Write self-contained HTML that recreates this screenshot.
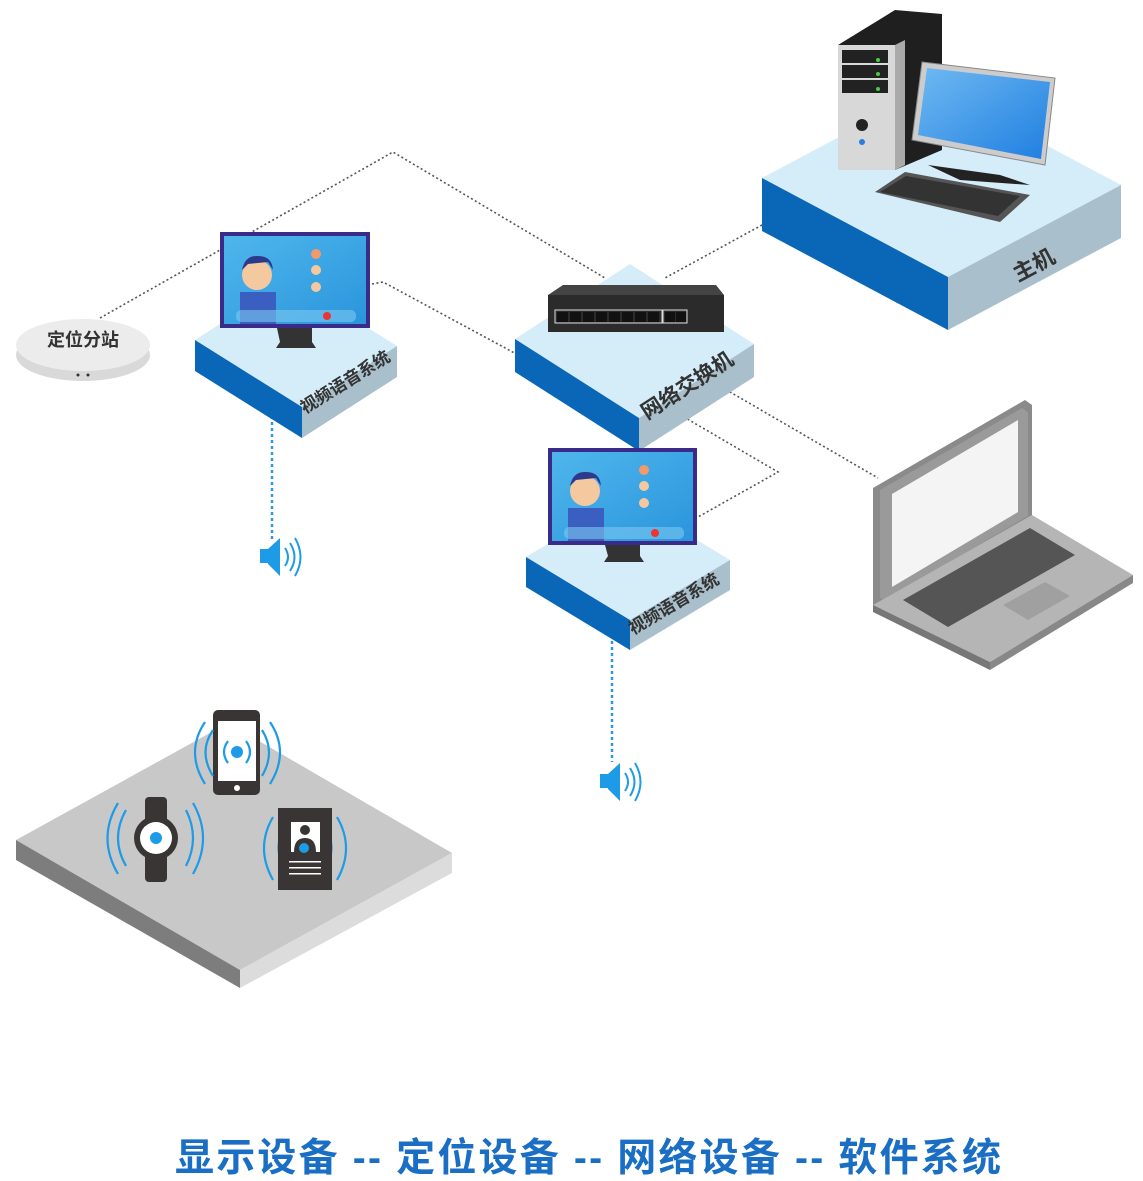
<!DOCTYPE html>
<html><head><meta charset="utf-8"><style>
html,body{margin:0;padding:0;background:#fff;}
svg{display:block;}
text{font-family:"Liberation Sans","Noto Sans CJK SC",sans-serif;font-weight:bold;}
</style></head><body>
<svg width="1143" height="1181" viewBox="0 0 1143 1181" xmlns="http://www.w3.org/2000/svg">
<defs>
<linearGradient id="scr" x1="0" y1="0" x2="1" y2="1"><stop offset="0" stop-color="#4fb6ec"/><stop offset="1" stop-color="#2a95dc"/></linearGradient>
<linearGradient id="pcs" x1="0" y1="0" x2="1" y2="1"><stop offset="0" stop-color="#6fb9f2"/><stop offset="1" stop-color="#1f7fe0"/></linearGradient>
</defs>
<g fill="none" stroke="#555" stroke-width="1.6" stroke-dasharray="2,2.5">
<polyline points="100,318 393,152 605,278"/>
<line x1="762" y1="225" x2="665" y2="278"/>
<polyline points="372,284 383,282 520,356"/>
<line x1="718" y1="385" x2="878" y2="478"/>
<polyline points="672,410 778,472 698,517"/>
</g>
<g fill="none" stroke="#2a9be0" stroke-width="2.5" stroke-dasharray="3,3">
<line x1="272" y1="410" x2="272" y2="540"/>
<line x1="612" y1="635" x2="612" y2="762"/>
</g>

<polygon points="762,178 935,86 1121,185 948,277" fill="#d5ecf9"/>
<polygon points="762,178 948,277 948,330 762,231" fill="#0a66b6"/>
<polygon points="948,277 1121,185 1121,238 948,330" fill="#a9bfcc"/>
<text x="0" y="0" font-size="22" fill="#333" transform="translate(1018,282) rotate(-28)">主机</text>
<polygon points="838,45 895,10 942,14 942,150 895,170" fill="#1f1f1f"/>
<rect x="838" y="45" width="57" height="125" fill="#d8d8d8"/>
<polygon points="895,45 905,40 905,165 895,170" fill="#aaa"/>
<rect x="842" y="50" width="46" height="13" fill="#222"/>
<rect x="842" y="65" width="46" height="13" fill="#222"/>
<rect x="842" y="80" width="46" height="13" fill="#222"/>
<circle cx="878" cy="60" r="2" fill="#4c4"/><circle cx="878" cy="74" r="2" fill="#4c4"/><circle cx="878" cy="89" r="2" fill="#4c4"/>
<circle cx="862" cy="125" r="6" fill="#222"/><circle cx="862" cy="142" r="3" fill="#2a7de0"/>
<polygon points="922,62 1055,78 1045,165 912,140" fill="#ccc" stroke="#888"/>
<polygon points="927,68 1050,82 1041,159 918,135" fill="url(#pcs)"/>
<path d="M928,165 L1000,175 L1030,185 L960,180 Z" fill="#222"/>
<polygon points="875,192 905,172 1030,195 1000,222" fill="#555"/>
<polygon points="880,192 906,176 1020,196 998,216" fill="#333"/>
<polygon points="515,339 630,264 754,344 639,418" fill="#d5ecf9"/>
<polygon points="515,339 639,418 639,451 515,372" fill="#0a66b6"/>
<polygon points="639,418 754,344 754,377 639,451" fill="#a9bfcc"/>
<text x="0" y="0" font-size="21" fill="#333" transform="translate(647,420) rotate(-33)">网络交换机</text>
<polygon points="548,295 563,285 716,285 724,295" fill="#444"/>
<rect x="548" y="295" width="176" height="37" fill="#2b2b2b"/>
<g fill="#fff"><rect x="555" y="310" width="107" height="13" fill="none" stroke="#ddd"/><rect x="663" y="310" width="24" height="13" fill="none" stroke="#ddd"/></g>
<g fill="#111"><rect x="557" y="312" width="11" height="10"/><rect x="570" y="312" width="11" height="10"/><rect x="583" y="312" width="11" height="10"/><rect x="596" y="312" width="11" height="10"/><rect x="609" y="312" width="11" height="10"/><rect x="622" y="312" width="11" height="10"/><rect x="635" y="312" width="11" height="10"/><rect x="648" y="312" width="11" height="10"/><rect x="665" y="312" width="10" height="10"/><rect x="676" y="312" width="10" height="10"/></g>
<polygon points="195,340 290,279 397,346 302,407" fill="#d5ecf9"/>
<polygon points="195,340 302,407 302,438 195,371" fill="#0a66b6"/>
<polygon points="302,407 397,346 397,377 302,438" fill="#a9bfcc"/>
<text x="0" y="0" font-size="17" fill="#333" transform="translate(305,414) rotate(-32)">视频语音系统</text>
<polygon points="277,328 312,328 312,342 316,348 276,348 280,342" fill="#333"/>
<rect x="220" y="232" width="150" height="96" fill="#3a2a8a"/>
<rect x="224" y="236" width="142" height="88" fill="url(#scr)"/>
<circle cx="257" cy="275" r="15" fill="#f4c9a0"/><path d="M242,270 Q245,255 258,256 Q272,256 273,270 L268,262 L248,264 Z" fill="#2d3a8c"/>
<rect x="240" y="292" width="36" height="32" fill="#3a5fc0"/>
<circle cx="316" cy="254" r="5" fill="#f29a6a"/><circle cx="316" cy="270" r="5" fill="#f4c9a0"/><circle cx="316" cy="287" r="5" fill="#f4c9a0"/>
<rect x="236" y="310" width="120" height="12" rx="5" fill="#7cc8f0" opacity=".6"/>
<circle cx="327" cy="316" r="4" fill="#e33"/>
<polygon points="526,557 626,497 730,560 630,620" fill="#d5ecf9"/>
<polygon points="526,557 630,620 630,650 526,587" fill="#0a66b6"/>
<polygon points="630,620 730,560 730,590 630,650" fill="#a9bfcc"/>
<text x="0" y="0" font-size="17" fill="#333" transform="translate(633,635) rotate(-31)">视频语音系统</text>
<polygon points="605,545 640,545 640,556 644,562 604,562 608,556" fill="#333"/>
<rect x="548" y="448" width="149" height="97" fill="#3a2a8a"/>
<rect x="552" y="452" width="141" height="89" fill="url(#scr)"/>
<circle cx="585" cy="491" r="15" fill="#f4c9a0"/><path d="M570,486 Q573,471 586,472 Q600,472 601,486 L596,478 L576,480 Z" fill="#2d3a8c"/>
<rect x="568" y="508" width="36" height="33" fill="#3a5fc0"/>
<circle cx="644" cy="470" r="5" fill="#f29a6a"/><circle cx="644" cy="486" r="5" fill="#f4c9a0"/><circle cx="644" cy="503" r="5" fill="#f4c9a0"/>
<rect x="564" y="527" width="120" height="12" rx="5" fill="#7cc8f0" opacity=".6"/>
<circle cx="655" cy="533" r="4" fill="#e33"/>
<ellipse cx="83" cy="355" rx="67" ry="26" fill="#d9d9d9"/>
<ellipse cx="83" cy="345" rx="67" ry="26" fill="#ececec"/>
<text x="83" y="346" font-size="18" fill="#333" text-anchor="middle">定位分站</text>
<circle cx="78" cy="375" r="1.5" fill="#333"/><circle cx="88" cy="375" r="1.5" fill="#333"/>
<g transform="translate(260,538)"><rect x="0" y="11" width="8" height="14" fill="#1e9be6"/><polygon points="8,11 20,0 20,38 8,26" fill="#1e9be6"/><path d="M25,10 Q31,19 25,28 M30,5 Q39,19 30,33 M35,0 Q46,19 35,38" fill="none" stroke="#1e9be6" stroke-width="2"/></g>
<g transform="translate(600,763)"><rect x="0" y="11" width="8" height="14" fill="#1e9be6"/><polygon points="8,11 20,0 20,38 8,26" fill="#1e9be6"/><path d="M25,10 Q31,19 25,28 M30,5 Q39,19 30,33 M35,0 Q46,19 35,38" fill="none" stroke="#1e9be6" stroke-width="2"/></g>
<polygon points="873,488 1025,400 1032,405 1032,520 880,610 873,605" fill="#8a8a8a"/>
<polygon points="880,490 1022,408 1028,412 1028,516 884,600 880,598" fill="#9a9a9a"/>
<polygon points="892,494 1018,420 1018,512 892,587" fill="#f4f4f4"/>
<polygon points="873,605 1032,515 1133,575 990,662" fill="#b5b5b5"/>
<polygon points="873,605 990,662 990,670 873,612" fill="#777"/>
<polygon points="990,662 1133,575 1133,583 990,670" fill="#888"/>
<polygon points="903,600 1030,528 1075,555 948,627" fill="#555"/>
<polygon points="1003,605 1045,582 1070,596 1028,620" fill="#a0a0a0"/>
<polygon points="16,840 228,723 452,853 240,970" fill="#c8c8c8"/>
<polygon points="16,840 240,970 240,988 16,860" fill="#7d7d7d"/>
<polygon points="240,970 452,853 452,873 240,988" fill="#dcdcdc"/>
<rect x="213" y="710" width="47" height="85" rx="5" fill="#3a3535"/>
<rect x="218" y="721" width="38" height="60" fill="#fff"/>
<circle cx="237" cy="788" r="3" fill="#fff"/>
<circle cx="237" cy="752" r="6" fill="#1e9be6"/>
<g fill="none" stroke="#1e9be6" stroke-width="2.2">
<path d="M228,741 Q220,752 228,763 M246,741 Q254,752 246,763 M213,730 Q198,752 213,776 M262,730 Q276,752 262,776 M205,722 Q185,752 205,784 M270,722 Q290,752 270,784"/>
<path d="M126,810 Q110,838 126,866 M186,810 Q200,838 186,866 M118,803 Q97,838 118,874 M193,803 Q213,838 193,874"/>
<path d="M285,825 Q272,848 285,870 M325,825 Q338,848 325,870 M273,817 Q255,848 273,880 M337,817 Q355,848 337,880"/>
</g>
<rect x="145" y="797" width="22" height="85" rx="4" fill="#3a3535"/>
<circle cx="156" cy="838" r="22" fill="#3a3535"/>
<circle cx="156" cy="838" r="16" fill="#fff"/>
<circle cx="156" cy="838" r="6" fill="#1e9be6"/>
<rect x="278" y="808" width="54" height="82" fill="#3a3535"/>
<rect x="291" y="822" width="29" height="30" fill="#fff"/>
<circle cx="305" cy="830" r="5" fill="#3a3535"/><path d="M294,852 Q294,838 305,838 Q316,838 316,852Z" fill="#3a3535"/>
<circle cx="304" cy="848" r="5" fill="#1e9be6"/>
<rect x="289" y="861" width="32" height="1.5" fill="#fff"/><rect x="289" y="867" width="32" height="1.5" fill="#fff"/><rect x="289" y="873" width="32" height="1.5" fill="#fff"/>
<text x="175" y="1171" font-size="39" fill="#1a6fc4" textLength="826" lengthAdjust="spacing">显示设备 -- 定位设备 -- 网络设备 -- 软件系统</text>
</svg>
</body></html>
